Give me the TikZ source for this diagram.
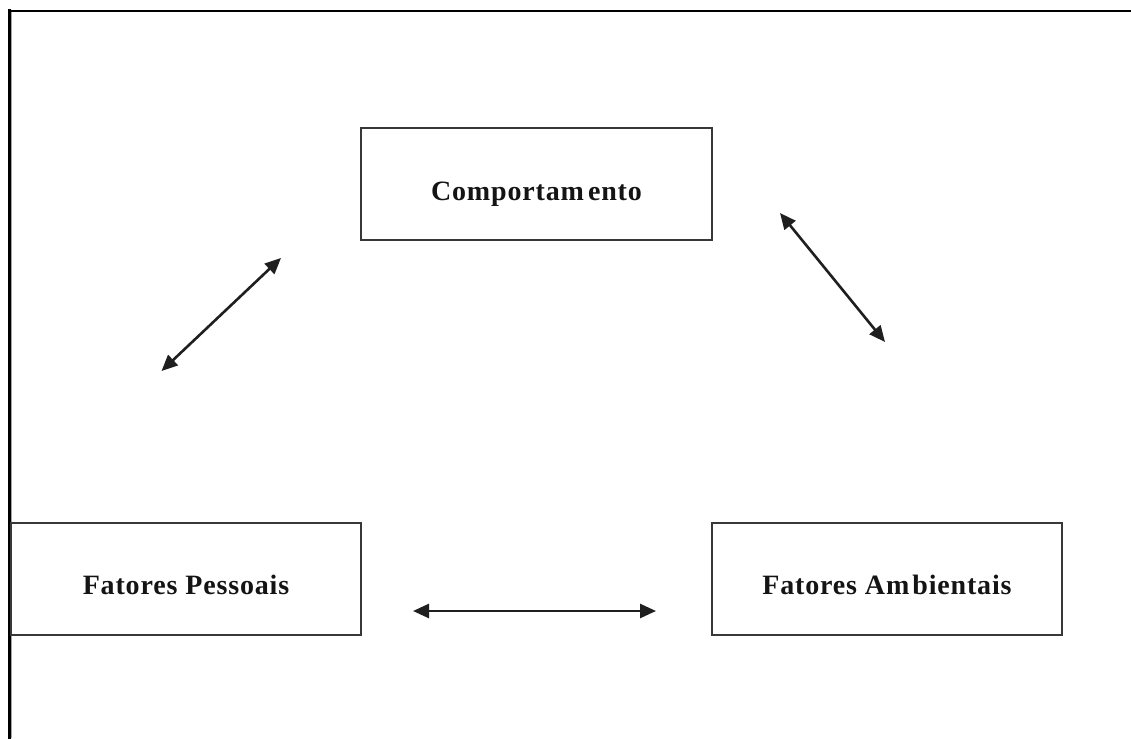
\documentclass[tikz,border=0pt]{standalone}
\usepackage{fontspec}
\setmainfont{Liberation Serif}
\newfontfamily\boxfont[LetterSpace=3]{Liberation Serif}
\usetikzlibrary{arrows.meta}

\tikzset{
  factorbox/.style={draw=black!78, line width=1.5pt, fill=white,
    minimum width=351pt, minimum height=112pt, inner sep=0pt, outer sep=0pt},
  factorlabel/.style={anchor=base, inner sep=0pt, text=black!92,
    font=\boxfont\bfseries\fontsize{28}{32}\selectfont},
  linkarrow/.style={line width=2.6pt, draw=black!88,
    {Triangle[length=16pt,width=14pt]}-{Triangle[length=16pt,width=14pt]}},
  frameline/.style={draw=black, line cap=rect}
}

\begin{document}
\begin{tikzpicture}[x=1pt, y=-1pt]
  \useasboundingbox (0,0) rectangle (1131,738);
  \fill[white] (0,0) rectangle (1131,738);

  % page frame: top and left rules
  \draw[frameline, line width=2pt] (9,10.8) -- (1131,10.8);
  \draw[frameline, line width=2.6pt] (9.2,10.8) -- (9.2,738);
  \draw[black!35, line width=0.8pt] (11.3,12) -- (11.3,738);

  % the three factors
  \node[factorbox] (comp) at (536.5,184) {};
  \node[factorbox, minimum width=350pt] (pess) at (186,579) {};
  \node[factorbox, minimum width=350pt] (amb) at (887,579) {};

  \node[factorlabel] (compt) at ([yshift=-16pt]comp.center) {Comportam\kern4pt ento};
  \node[factorlabel] (pesst) at ([yshift=-15.5pt]pess.center) {Fatores Pessoais};
  \node[factorlabel] (ambt) at ([yshift=-15.5pt]amb.center) {Fatores Am\kern3pt bientais};

  % reciprocal links
  \coordinate (pessUp) at (161.5,371);
  \coordinate (compLeft) at (281,258);
  \coordinate (compRight) at (780,213);
  \coordinate (ambUp) at (885,342);
  \coordinate (pessRight) at (413,611);
  \coordinate (ambLeft) at (656,611);

  \draw[linkarrow] (pessUp) -- (compLeft);
  \draw[linkarrow] (compRight) -- (ambUp);
  \draw[linkarrow] (pessRight) -- (ambLeft);
\end{tikzpicture}
\end{document}
